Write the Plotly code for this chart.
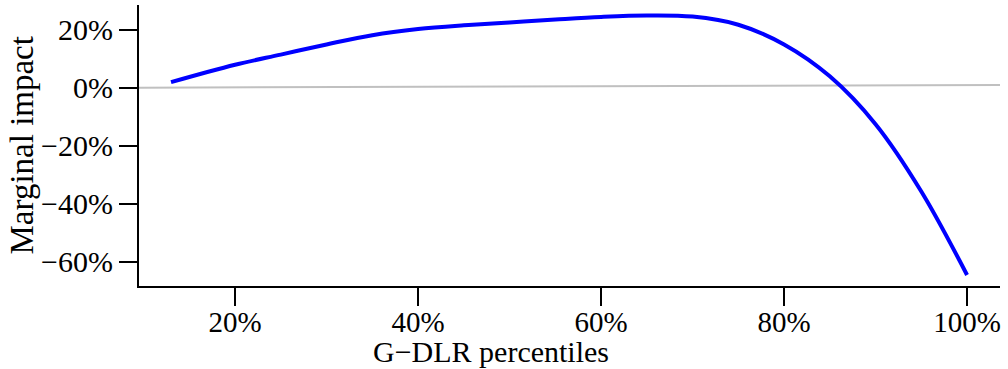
import plotly.graph_objects as go

# G-DLR percentile (%) and marginal impact (%)
percentiles = [13, 20, 25, 30, 35, 40, 45, 50, 55, 60, 65, 70, 75, 80, 85, 90, 95, 100]
impact = [2.0, 8.0, 11.5, 15.0, 18.2, 20.3, 21.6, 22.6, 23.6, 24.5, 25.0, 24.6, 21.8, 15.0, 4.0, -12.5, -35.7, -64.5]

# faint reference line
ref_x = [9.5, 103.6]
ref_y = [0.1, 1.0]

x_ticks = [20, 40, 60, 80, 100]
x_labels = ["20%", "40%", "60%", "80%", "100%"]
y_ticks = [-60, -40, -20, 0, 20]
y_labels = ["\u221260%", "\u221240%", "\u221220%", "0%", "20%"]

FONT = "Liberation Serif"

fig = go.Figure()
fig.add_trace(go.Scatter(x=ref_x, y=ref_y, mode="lines",
                         line=dict(color="#c0c0c0", width=2),
                         hoverinfo="skip", showlegend=False))
fig.add_trace(go.Scatter(x=percentiles, y=impact, mode="lines",
                         line=dict(color="#0000ff", width=4, shape="spline"),
                         showlegend=False))

fig.update_layout(
    width=1008, height=369,
    margin=dict(l=139, r=8, t=5, b=83),
    plot_bgcolor="white", paper_bgcolor="white",
    font=dict(family=FONT, size=30, color="black"),
    xaxis=dict(range=[9.5, 103.6], tickmode="array", tickvals=x_ticks, ticktext=x_labels,
               tickfont=dict(size=29), ticklabelstandoff=-9,
               showgrid=False, zeroline=False, showline=True,
               linecolor="black", linewidth=2, ticks="outside",
               ticklen=18, tickwidth=2, tickcolor="black"),
    yaxis=dict(range=[-68.3, 28.6], tickmode="array", tickvals=y_ticks, ticktext=y_labels,
               tickfont=dict(size=30),
               showgrid=False, zeroline=False, showline=True,
               linecolor="black", linewidth=2, ticks="outside",
               ticklen=18, tickwidth=2, tickcolor="black"),
    annotations=[
        dict(text="G\u2212DLR percentiles", xref="paper", yref="paper",
             x=0.4094, y=-0.2954, xanchor="center", yanchor="bottom",
             showarrow=False, borderpad=0,
             font=dict(family=FONT, size=30, color="black")),
        dict(text="Marginal impact", xref="paper", yref="paper",
             x=-0.1359, y=0.5, xanchor="center", yanchor="middle", textangle=-90,
             showarrow=False, font=dict(family=FONT, size=33, color="black")),
    ],
)

fig.write_html("out.html")
